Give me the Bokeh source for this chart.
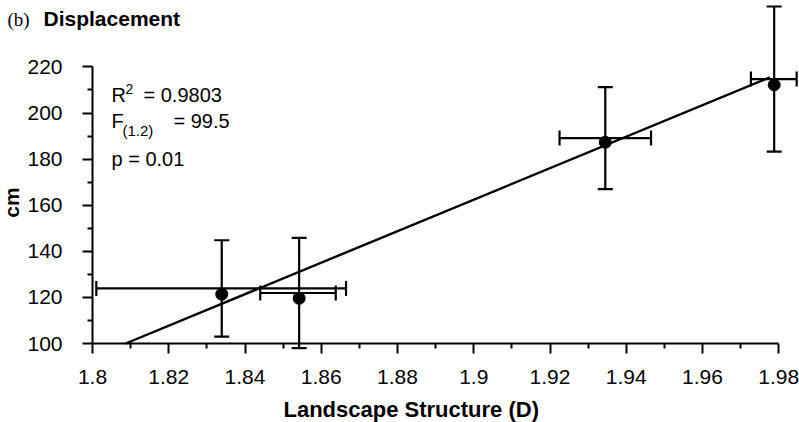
from bokeh.plotting import figure
from bokeh.models import (ColumnDataSource, Whisker, TeeHead, Label, Range1d,
                          FixedTicker)
from bokeh.embed import file_html
from bokeh.resources import INLINE

# ---------------- data ----------------
landscape_D   = [1.8339, 1.8542, 1.9345, 1.9788]   # x means
displacement  = [121.4, 119.6, 187.3, 212.2]       # cm (dots)
cm_lower      = [103.0, 98.0, 167.0, 183.2]        # vertical error-bar ends
cm_upper      = [144.8, 145.8, 211.2, 246.2]
D_lower       = [1.8010, 1.8440, 1.9225, 1.9727]   # horizontal error-bar ends
D_upper       = [1.8665, 1.8638, 1.9465, 1.9847]
fit_x         = [1.8087, 1.9777]                   # regression line
fit_y         = [100.0, 215.5]

x_ticks       = [1.80, 1.82, 1.84, 1.86, 1.88, 1.90, 1.92, 1.94, 1.96, 1.98]
x_tick_labels = ["1.8", "1.82", "1.84", "1.86", "1.88", "1.9", "1.92", "1.94", "1.96", "1.98"]
x_minor       = [1.81, 1.83, 1.85, 1.87, 1.89, 1.91, 1.93, 1.95, 1.97]
y_ticks       = [100, 120, 140, 160, 180, 200, 220]
y_minor       = [110, 130, 150, 170, 190, 210]

# ---------------- layout ----------------
W, H = 799, 422
AX_X, AX_Y = 92, 343          # canvas position of the axes' corner
px_per_x = 3812.5             # pixels per unit of D
px_per_y = 2.305              # pixels per cm
x0, y0 = x_ticks[0], y_ticks[0]

p = figure(width=W, height=H, output_backend="svg", toolbar_location=None,
           x_range=Range1d(x0 - AX_X / px_per_x, x0 + (W - AX_X) / px_per_x),
           y_range=Range1d(y0 - (H - AX_Y) / px_per_y, y0 + AX_Y / px_per_y),
           min_border_left=0, min_border_right=0, min_border_top=0,
           min_border_bottom=0)
p.outline_line_color = None
p.grid.visible = False
p.background_fill_color = "white"
p.border_fill_color = "white"

for axes in (p.xaxis, p.yaxis):
    axes.axis_line_width = 2
    axes.axis_line_color = "black"
    axes.major_tick_line_width = 2
    axes.minor_tick_line_width = 2
    axes.major_tick_out = 10
    axes.major_tick_in = 0
    axes.minor_tick_out = 5
    axes.minor_tick_in = 0
    axes.major_label_text_font = "Liberation Sans"
    axes.major_label_text_color = "black"
    axes.major_label_text_font_size = "21px"
p.xaxis.major_label_standoff = 16
p.yaxis.major_label_standoff = 20

p.xaxis.ticker = FixedTicker(ticks=x_ticks, minor_ticks=x_minor)
p.xaxis.major_label_overrides = dict(zip(x_ticks, x_tick_labels))
p.xaxis.bounds = (x_ticks[0], x_ticks[-1])
p.xaxis.fixed_location = y0
p.yaxis.ticker = FixedTicker(ticks=y_ticks, minor_ticks=y_minor)
p.yaxis.bounds = (y_ticks[0], y_ticks[-1])
p.yaxis.fixed_location = x0

src = ColumnDataSource(dict(
    x=landscape_D, y=displacement, ylo=cm_lower, yhi=cm_upper,
    xlo=D_lower, xhi=D_upper,
    ymid=[(a + b) / 2 for a, b in zip(cm_lower, cm_upper)],
))

# regression line
p.line(fit_x, fit_y, line_color="black", line_width=2.4)

# error bars
def head():
    return TeeHead(size=15, line_width=2.2, line_color="black")

p.add_layout(Whisker(source=src, base="x", lower="ylo", upper="yhi",
                     dimension="height", line_width=2.2, line_color="black",
                     lower_head=head(), upper_head=head()))
p.add_layout(Whisker(source=src, base="ymid", lower="xlo", upper="xhi",
                     dimension="width", line_width=2.2, line_color="black",
                     lower_head=head(), upper_head=head()))

p.scatter("x", "y", source=src, size=12, fill_color="black", line_color="black")

# ---------------- texts ----------------
def lab(text, cx, cy, size, font="Liberation Sans", style="normal",
        align="left", baseline="alphabetic", angle=0.0):
    p.add_layout(Label(x=cx, y=H - cy, x_units="screen", y_units="screen",
                       text=text, text_font=font, text_font_size=f"{size}px",
                       text_font_style=style, text_align=align,
                       text_baseline=baseline, angle=angle, text_color="black"))

lab("(b)", 7, 19, 19, font="Liberation Serif")
lab("Displacement", 43, 18, 21, style="bold")
lab("cm", 11, 202, 21, style="bold", align="center", baseline="middle", angle=1.5708)
lab("Landscape Structure (D)", 283, 409, 22, style="bold")

lab("R", 111, 94, 20)
lab("2", 125, 88, 14)
lab("= 0.9803", 143, 94, 20)
lab("F", 111, 120, 20)
lab("(1.2)", 122, 130, 15)
lab("= 99.5", 173, 120, 20)
lab("p = 0.01", 111, 158, 20)

open("out.html", "w").write(file_html(p, INLINE))
